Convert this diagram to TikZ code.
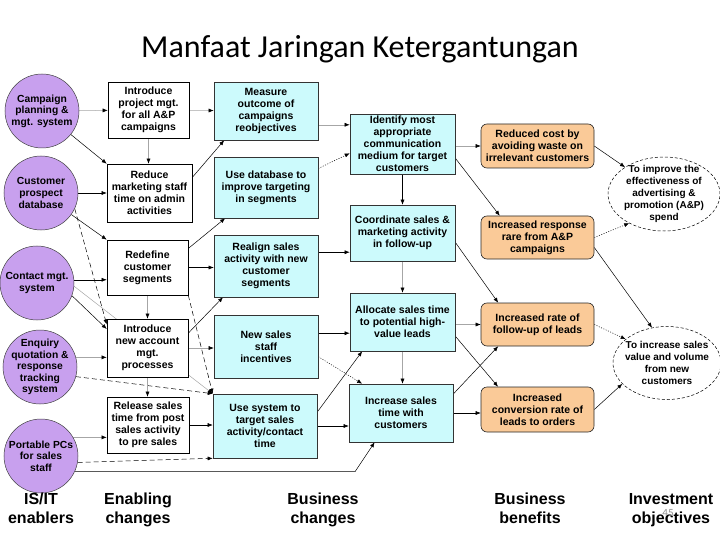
\documentclass[tikz,border=0pt]{standalone}
\usepackage{fontspec}
\setmainfont{Liberation Sans}
\newfontfamily\titlefont{Carlito}
\usetikzlibrary{shapes.geometric,arrows.meta,backgrounds,calc}
\definecolor{lav}{RGB}{200,160,238}
\definecolor{cyanbox}{RGB}{204,250,252}
\definecolor{peach}{RGB}{250,202,152}
\begin{document}
\begin{tikzpicture}[x=1pt,y=-1pt,
  btxt/.style={font=\bfseries\fontsize{10.5}{12}\selectfont, align=center, inner sep=1pt},
  wbox/.style={rectangle, btxt, draw=black, line width=0.6pt, fill=white},
  cbox/.style={rectangle, btxt, draw=black!80, line width=0.6pt, fill=cyanbox},
  obox/.style={rectangle, rounded corners=6pt, btxt, draw=black!85, line width=0.6pt, fill=peach},
  pcirc/.style={circle, draw=black!75, line width=0.5pt, fill=lav, minimum size=74pt, inner sep=0pt},
  ctxt/.style={font=\bfseries\fontsize{10.3}{11.6}\selectfont, align=center, inner sep=0pt},
  goal/.style={ellipse, draw=black, dash pattern=on 3pt off 2pt, line width=0.5pt, fill=white, inner sep=0pt},
  gtxt/.style={font=\bfseries\fontsize{10}{12}\selectfont, align=center, inner sep=0pt},
  lbl/.style={font=\bfseries\fontsize{16}{19}\selectfont, align=center},
  ar/.style={line width=0.5pt, -{Latex[length=5pt,width=4pt]}},
  fd/.style={line width=0.5pt, draw=black!35, -{Latex[length=5pt,width=4pt,black]}},
  dsh/.style={ar, dash pattern=on 5pt off 3pt},
  dtt/.style={ar, dash pattern=on 1pt off 1.5pt}]
\useasboundingbox (0,0) rectangle (720,540);

\node[font=\titlefont\fontsize{32}{34}\selectfont, anchor=base] (title) at (360,58) {Manfaat Jaringan Ketergantungan};

% IS/IT enablers
\node[pcirc] (p1) at (42,111) {};
\node[ctxt] at (p1) {Campaign\\planning \&\\mgt. system};
\node[pcirc] (p2) at (41,193) {};
\node[ctxt] at (p2) {Customer\\prospect\\database};
\node[pcirc] (p3) at (37,283) {};
\node[ctxt] at (p3) {Contact mgt.\\system};
\node[pcirc] (p4) at (40,367) {};
\node[ctxt] at (p4) {Enquiry\\quotation \&\\response\\tracking\\system};
\node[pcirc] (p5) at (41,456) {};
\node[ctxt] at (p5) {Portable PCs\\for sales\\staff};

% Enabling changes
\node[wbox, minimum width=81pt, minimum height=56pt] (b1) at (148.5,110) {Introduce\\project mgt.\\for all A\&P\\campaigns};
\node[wbox, minimum width=85pt, minimum height=58pt] (b2) at (149.5,193) {Reduce\\marketing staff\\time on admin\\activities};
\node[wbox, minimum width=81pt, minimum height=55pt] (b3) at (147.5,267.5) {Redefine\\customer\\segments};
\node[wbox, minimum width=81pt, minimum height=58pt] (b4) at (147.5,348) {Introduce\\new account\\mgt.\\processes};
\node[wbox, minimum width=82pt, minimum height=56pt] (b5) at (148,425) {Release sales\\time from post\\sales activity\\to pre sales};

% Business changes
\node[cbox, minimum width=104pt, minimum height=58pt] (c1) at (266,111) {Measure\\outcome of\\campaigns\\reobjectives};
\node[cbox, minimum width=104pt, minimum height=61pt] (c2) at (266,187.5) {Use database to\\improve targeting\\in segments};
\node[cbox, minimum width=104pt, minimum height=62pt] (c3) at (266,266) {Realign sales\\activity with new\\customer\\segments};
\node[cbox, minimum width=104pt, minimum height=63pt] (c4) at (266,346.5) {New sales\\staff\\incentives};
\node[cbox, minimum width=104pt, minimum height=64pt] (c5) at (265,426) {Use system to\\target sales\\activity/contact\\time};

\node[cbox, minimum width=105pt, minimum height=60pt] (d1) at (402.5,144) {Identify most\\appropriate\\communication\\medium for target\\customers};
\node[cbox, minimum width=105pt, minimum height=56pt] (d2) at (402.5,233) {Coordinate sales \&\\marketing activity\\in follow-up};
\node[cbox, minimum width=105pt, minimum height=58pt] (d3) at (402.5,322) {Allocate sales time\\to potential high-\\value leads};
\node[cbox, minimum width=104pt, minimum height=58pt] (d4) at (401,413) {Increase sales\\time with\\customers};

% Business benefits
\node[obox, minimum width=113pt, minimum height=44pt] (e1) at (537.5,146) {Reduced cost by\\avoiding waste on\\irrelevant customers};
\node[obox, minimum width=113pt, minimum height=43pt] (e2) at (537.5,237.5) {Increased response\\rare from A\&P\\campaigns};
\node[obox, minimum width=113pt, minimum height=43pt] (e3) at (537.5,324.5) {Increased rate of\\follow-up of leads};
\node[obox, minimum width=113pt, minimum height=45pt] (e4) at (537.5,409.5) {Increased\\conversion rate of\\leads to orders};

% Investment objectives
\node[goal, minimum width=112pt, minimum height=74pt] (f1) at (664,194) {};
\node[gtxt] at (f1) {To improve the\\effectiveness of\\advertising \&\\promotion (A\&P)\\spend};
\node[goal, minimum width=108pt, minimum height=73pt] (f2) at (667,363) {};
\node[gtxt] at (f2) {To increase sales\\value and volume\\from new\\customers};

% column labels
\node[lbl] (l1) at (41,510) {IS/IT\strut\\enablers\strut};
\node[lbl] (l2) at (138,510) {Enabling\strut\\changes\strut};
\node[lbl] (l3) at (323,510) {Business\strut\\changes\strut};
\node[lbl] (l4) at (530,510) {Business\strut\\benefits\strut};
\node[lbl] (l5) at (671,510) {Investment\strut\\objectives\strut};
\node[font=\titlefont\fontsize{11}{12}\selectfont, text=black!45] (pg) at (668,513) {45};

\coordinate (k5) at (355,471);

\begin{scope}[on background layer]
% from IS/IT enablers
\draw[fd] (p1) -- (b1);
\draw[ar] (p1) -- (b2.north west);
\draw[ar] (p2) -- (b2);
\draw[ar] (p2) -- (b3.north west);
\draw[dsh] (p2.-25) -- (b4.150);
\draw[ar] (p3.5) -- (p3.5 -| b3.west);
\draw[ar] (p3.-20) -- (b4.155);
\draw[fd] (p3.-5) -- (c5.north west);
\draw[fd] (p4.15) -- (p4.15 -| b4.west);
\draw[dsh] (p4.-15) -- (c5.north west);
\draw[fd] (p5.30) -- (p5.30 -| b5.west);
\draw[dsh] (p5.-10) -- (c5.south west);
\draw[ar] (p5.-25) -- (p5.-25 -| k5) -- (d4.-132);
% enabling changes
\draw[fd] (b1) -- (c1);
\draw[fd] (b1.south) -- (b1.south |- b2.north);
\draw[ar] (b2.20) -- (c1.-145);
\draw[ar] (b3.25) -- (c2.-143);
\draw[ar] (b3.east) -- (b3.east -| c3.west);
\draw[dsh] (b3.south east) -- (c5.north west);
\draw[fd] (b3.south) -- (b3.south |- b4.north);
\draw[ar] (b4.20) -- (c3.-144);
\draw[fd] (b4.east) -- (b4.east -| c4.west);
\draw[fd] (b4.south) -- (b4.south |- b5.north);
\draw[ar] (b5.east) -- (b5.east -| c5.west);
% business changes
\draw[fd] (d1.160 -| c1.east) -- (d1.160);
\draw[dtt] (c2.20) -- (d1.190);
\draw[ar] (d2.-160 -| c3.east) -- (d2.-160);
\draw[ar] (d3.-168 -| c4.east) -- (d3.-168);
\draw[dtt] (c4.-11) -- (d4.143);
\draw[ar] (c5.15) -- (d3.-144);
\draw[ar] (c5.east) -- (c5.east -| d4.west);
\draw[ar] (d1.south) -- (d1.south |- d2.north);
\draw[fd] (d2.south) -- (d2.south |- d3.north);
\draw[fd] (d3.south) -- (d3.south |- d4.north);
\draw[fd] (d1.east |- e1.west) -- (e1.west);
\draw[ar] (d1.-15) -- (e2.150);
\draw[ar] (d2.-10) -- (e3.151);
\draw[fd] (d3.east |- e3.west) -- (e3.west);
\draw[ar] (d3.-15) -- (e4.150);
\draw[ar] (d4.20) -- (e3.-151);
\draw[ar] (d4.east) -- (d4.east -| e4.west);
% business benefits
\draw[ar] (e1.east) -- (f1);
\draw[dtt] (e2.east) -- (f1.-140);
\draw[ar] (e2.-10) -- (f2.113);
\draw[dtt] (e3.east) -- (f2.150);
\draw[ar] (e4.east) -- (f2.-155);
\end{scope}
\end{tikzpicture}
\end{document}
